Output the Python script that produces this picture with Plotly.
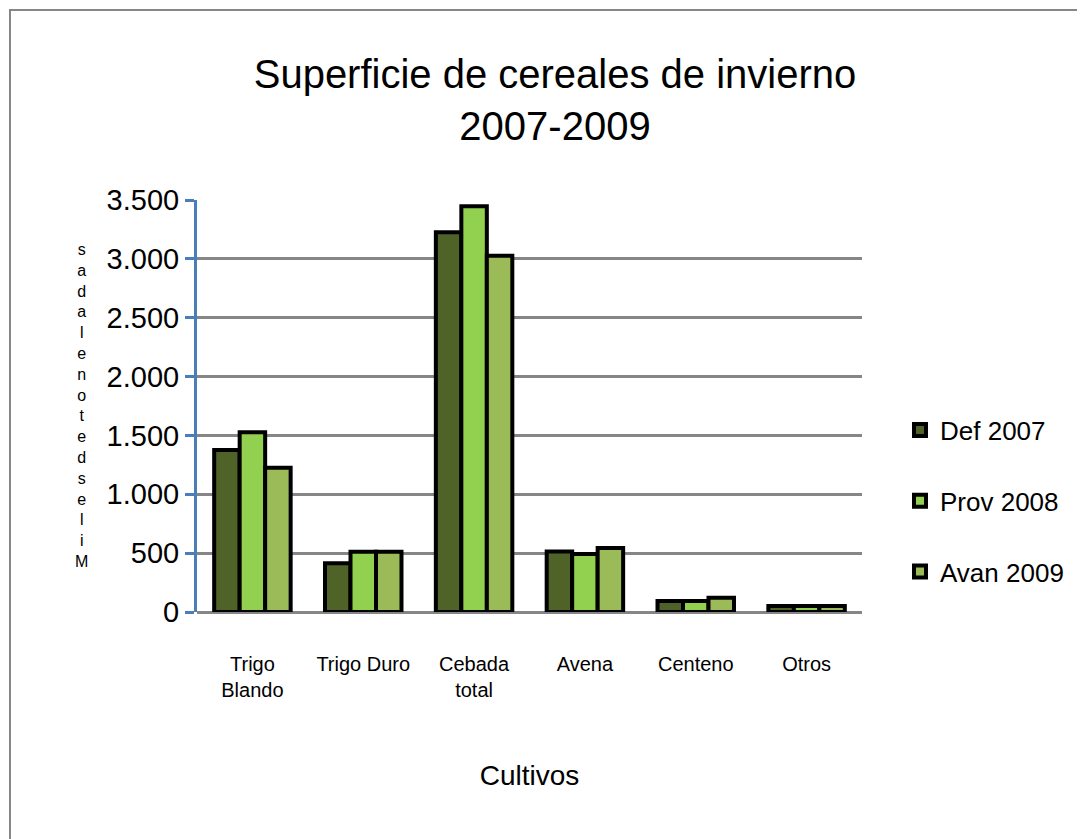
import plotly.graph_objects as go

categories = ["Trigo<br>Blando", "Trigo Duro", "Cebada<br>total", "Avena", "Centeno", "Otros"]
series_names = ["Def 2007", "Prov 2008", "Avan 2009"]
def_2007 = [1376, 414, 3226, 514, 94, 50]
prov_2008 = [1527, 512, 3447, 492, 94, 50]
avan_2009 = [1226, 512, 3027, 543, 120, 50]
colors = ["#4F6228", "#92D050", "#9BBB59"]
tick_vals = [0, 500, 1000, 1500, 2000, 2500, 3000, 3500]
title_text = "Superficie de cereales de invierno<br>2007-2009"
y_title = "Miles de toneladas"
x_title = "Cultivos"

FONT = "Liberation Sans Narrow, Liberation Sans, Arial, sans-serif"
OFF = 8  # page body margin
W, H = 1085, 839
# target plot area in page pixels: x 197..862, y 200..612
L = 197 - OFF
T = 200 - OFF
PW, PH = 665, 412
R = W - L - PW
B = H - T - PH

fig = go.Figure()
for name, vals, col in zip(series_names, [def_2007, prov_2008, avan_2009], colors):
    fig.add_trace(go.Bar(
        x=categories, y=vals, name=name, legendgroup=name,
        marker=dict(color=col, line=dict(color="black", width=4)),
    ))

def px_x(p):
    return (p - 197) / PW

def px_y(p):
    return (612 - p) / PH

# Stacked (reversed) y-axis title, as shown in the reference
stacked = "<br>".join([c for c in y_title if c != " "][::-1])

fig.update_layout(
    width=W, height=H,
    margin=dict(l=L, r=R, t=T, b=B),
    paper_bgcolor="white", plot_bgcolor="white",
    separators=",.",
    title=dict(text=title_text, x=(555 - OFF) / W, xanchor="center", y=1 - 80 / H, yanchor="top",
               font=dict(family=FONT, size=40, color="black")),
    barmode="group", bargap=0.31, bargroupgap=0,
    legend=dict(x=px_x(900), y=px_y(501), xanchor="left", yanchor="middle",
                font=dict(family=FONT, size=26, color="black"),
                tracegroupgap=34, bgcolor="rgba(0,0,0,0)"),
    annotations=[dict(
        text=stacked, xref="paper", yref="paper", x=px_x(81), y=px_y(405),
        xanchor="center", yanchor="middle", showarrow=False,
        font=dict(family=FONT, size=16, color="black"),
    )],
    shapes=[dict(type="rect", xref="paper", yref="paper",
                 x0=px_x(10), x1=px_x(1120), y0=px_y(880), y1=px_y(10),
                 line=dict(color="#868686", width=2), fillcolor="rgba(0,0,0,0)", layer="below")],
    showlegend=True,
)
fig.update_xaxes(
    showline=False, showgrid=False, ticks="", ticklabelstandoff=38,
    tickfont=dict(family=FONT, size=20, color="black"),
    title=dict(text=x_title, font=dict(family=FONT, size=28, color="black"), standoff=65),
)
fig.update_yaxes(
    range=[0, 3500], tickvals=tick_vals, tickformat=",d",
    showgrid=True, gridcolor="#868686", gridwidth=3,
    zeroline=True, zerolinecolor="#868686", zerolinewidth=3,
    showline=True, linecolor="#4A7EBB", linewidth=3,
    ticks="outside", ticklen=9, tickwidth=3, tickcolor="#4A7EBB",
    tickfont=dict(family=FONT, size=29, color="black"),
)

fig.write_html("out.html")
